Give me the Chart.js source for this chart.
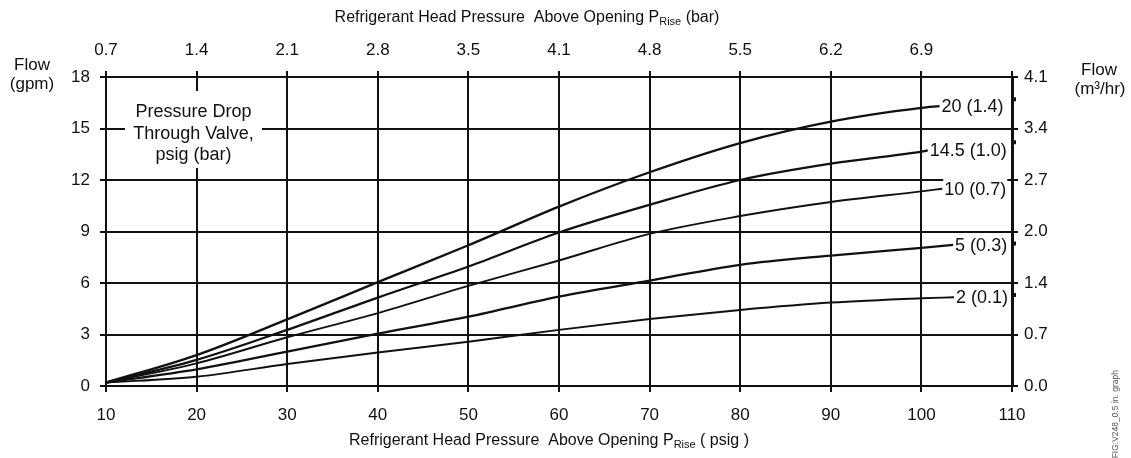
<!DOCTYPE html>
<html>
<head>
<meta charset="utf-8">
<script src="https://cdn.jsdelivr.net/npm/chart.js@4.4.1/dist/chart.umd.min.js"></script>
<style>
	html, body { margin: 0; padding: 0; background: #fff; }
	#wrap { width: 1131px; height: 458px; position: relative; }
</style>
</head>
<body>
<div id="wrap"><canvas id="flow-chart"></canvas></div>
<script>
// Data
const psigPoints = [10, 20, 30, 40, 50, 60, 70, 80, 90, 100];
const flowDrop20 = [0.2, 1.8, 3.88, 6.05, 8.2, 10.45, 12.45, 14.15, 15.4, 16.2];
const flowDrop14 = [0.2, 1.52, 3.27, 5.15, 6.96, 8.94, 10.55, 12.0, 12.95, 13.65];
const flowDrop10 = [0.2, 1.32, 2.84, 4.25, 5.83, 7.31, 8.86, 9.9, 10.72, 11.34];
const flowDrop5 = [0.2, 0.97, 2.0, 3.05, 4.04, 5.21, 6.14, 7.06, 7.6, 8.05];
const flowDrop2 = [0.2, 0.54, 1.28, 1.95, 2.58, 3.27, 3.9, 4.43, 4.86, 5.11];
const curveEndPsig = [102, 100.7, 102.3, 103.5, 103.6];
const curveEndFlow = [16.3, 13.72, 11.49, 8.22, 5.17];
const curveLabels = ["20 (1.4)", "14.5 (1.0)", "10 (0.7)", "5 (0.3)", "2 (0.1)"];
const curveWidths = [2.3, 2.3, 1.9, 2.3, 1.9];

// Tick labels
const barTicks = ["0.7", "1.4", "2.1", "2.8", "3.5", "4.1", "4.8", "5.5", "6.2", "6.9"];
const m3hrTicks = ["0.0", "0.7", "1.4", "2.0", "2.7", "3.4", "4.1"];
const rightMarks = [16.7, 14.2, 8.3, 5.3];

const ink = "#111";
const fontFamily = '"Liberation Sans", Arial, Helvetica, sans-serif';
const fontSize = 17;
const titleSize = 16;
const noteSize = 18;

function buildSeries(values, k) {
	const pts = psigPoints.map((p, i) => ({ x: p, y: values[i] }));
	pts.push({ x: curveEndPsig[k], y: curveEndFlow[k] });
	return pts;
}

const allFlows = [flowDrop20, flowDrop14, flowDrop10, flowDrop5, flowDrop2];

function drawRich(ctx, segs, cx, baseline) {
	let total = 0;
	segs.forEach((s) => {
		ctx.font = `${s.size}px ${fontFamily}`;
		s.w = ctx.measureText(s.text).width;
		total += s.w;
	});
	let x = cx - total / 2;
	ctx.textAlign = "left";
	ctx.textBaseline = "alphabetic";
	segs.forEach((s) => {
		ctx.font = `${s.size}px ${fontFamily}`;
		ctx.fillText(s.text, x, baseline + (s.dy || 0));
		x += s.w;
	});
}

const valveNotes = {
	id: "valveNotes",
	afterDatasetsDraw(chart) {
		const { ctx, scales } = chart;
		const xs = scales.x;
		const ys = scales.y;
		ctx.save();
		ctx.font = `${noteSize}px ${fontFamily}`;
		ctx.textBaseline = "middle";
		ctx.textAlign = "left";

		// curve end labels
		curveLabels.forEach((label, k) => {
			const px = xs.getPixelForValue(curveEndPsig[k]) + 1;
			const py = ys.getPixelForValue(curveEndFlow[k]);
			const w = ctx.measureText(label).width;
			ctx.fillStyle = "#fff";
			ctx.fillRect(px, py - 10, w + 2, 20);
			ctx.fillStyle = ink;
			ctx.fillText(label, px + 1, py + 1);
		});

		// little marks on the right axis
		ctx.fillStyle = ink;
		rightMarks.forEach((v) => {
			const py = ys.getPixelForValue(v);
			ctx.fillRect(chart.chartArea.right + 1, py - 2, 3, 4);
		});

		// legend box
		ctx.fillStyle = "#fff";
		ctx.fillRect(125, 91, 137, 77);
		ctx.fillStyle = ink;
		ctx.textAlign = "center";
		ctx.textBaseline = "alphabetic";
		ctx.fillText("Pressure Drop", 193.5, 116.5);
		ctx.fillText("Through Valve,", 193.5, 138.5);
		ctx.fillText("psig (bar)", 193.5, 159.5);
		ctx.restore();
	},
	afterDraw(chart) {
		const { ctx } = chart;
		ctx.save();
		ctx.fillStyle = ink;
		drawRich(ctx, [
			{ text: "Refrigerant Head Pressure  Above Opening P", size: titleSize },
			{ text: "Rise", size: 11, dy: 3 },
			{ text: " (bar)", size: titleSize }
		], 527, 21.5);
		drawRich(ctx, [
			{ text: "Refrigerant Head Pressure  Above Opening P", size: titleSize },
			{ text: "Rise", size: 11, dy: 3 },
			{ text: " ( psig )", size: titleSize }
		], 549, 445);

		ctx.font = `${fontSize}px ${fontFamily}`;
		ctx.textAlign = "center";
		ctx.textBaseline = "alphabetic";
		ctx.fillText("Flow", 32, 70);
		ctx.fillText("(gpm)", 32, 89);
		ctx.fillText("Flow", 1099, 75);
		ctx.fillText("(m³/hr)", 1100, 94);

		ctx.translate(1116, 370);
		ctx.rotate(-Math.PI / 2);
		ctx.font = `8.5px ${fontFamily}`;
		ctx.fillStyle = "#555";
		ctx.textAlign = "right";
		ctx.textBaseline = "middle";
		ctx.fillText("FIG:V248_0.5 in. graph", 0, 0);
		ctx.restore();
	}
};

const tickFont = { family: fontFamily, size: fontSize };

new Chart(document.getElementById("flow-chart"), {
	type: "line",
	data: {
		datasets: allFlows.map((flows, k) => ({
			label: curveLabels[k],
			data: buildSeries(flows, k),
			borderColor: ink,
			borderWidth: curveWidths[k],
			pointRadius: 0,
			fill: false,
			cubicInterpolationMode: "monotone",
			xAxisID: "x",
			yAxisID: "y"
		}))
	},
	options: {
		responsive: true,
		maintainAspectRatio: false,
		animation: false,
		layout: { padding: 0 },
		plugins: {
			legend: { display: false },
			tooltip: { enabled: false }
		},
		scales: {
			x: {
				type: "linear",
				position: "bottom",
				min: 10,
				max: 110,
				ticks: { stepSize: 10, color: ink, font: tickFont, padding: 13, maxRotation: 0, autoSkip: false },
				grid: { color: ink, lineWidth: 2, tickLength: 6 },
				border: { color: ink, width: 2 },
				afterFit(s) { s.height = 72; }
			},
			x2: {
				type: "linear",
				position: "top",
				min: 10,
				max: 110,
				ticks: {
					stepSize: 10, color: ink, font: tickFont, padding: 10, maxRotation: 0, autoSkip: false,
					callback: (v) => barTicks[Math.round((v - 10) / 10)] ?? ""
				},
				grid: { color: ink, lineWidth: 2, tickLength: 6, drawOnChartArea: false },
				border: { color: ink, width: 2 },
				afterFit(s) { s.height = 77; }
			},
			y: {
				type: "linear",
				position: "left",
				min: 0,
				max: 18,
				ticks: { stepSize: 3, color: ink, font: tickFont, padding: 10 },
				grid: { color: ink, lineWidth: 2, tickLength: 6 },
				border: { color: ink, width: 2 },
				afterFit(s) { s.width = 106; }
			},
			y2: {
				type: "linear",
				position: "right",
				min: 0,
				max: 18,
				ticks: {
					stepSize: 3, color: ink, font: tickFont, padding: 6,
					callback: (v) => m3hrTicks[Math.round(v / 3)] ?? ""
				},
				grid: { color: ink, lineWidth: 2, tickLength: 6, drawOnChartArea: false },
				border: { color: ink, width: 3 },
				afterFit(s) { s.width = 119; }
			}
		}
	},
	plugins: [valveNotes]
});
</script>
</body>
</html>
